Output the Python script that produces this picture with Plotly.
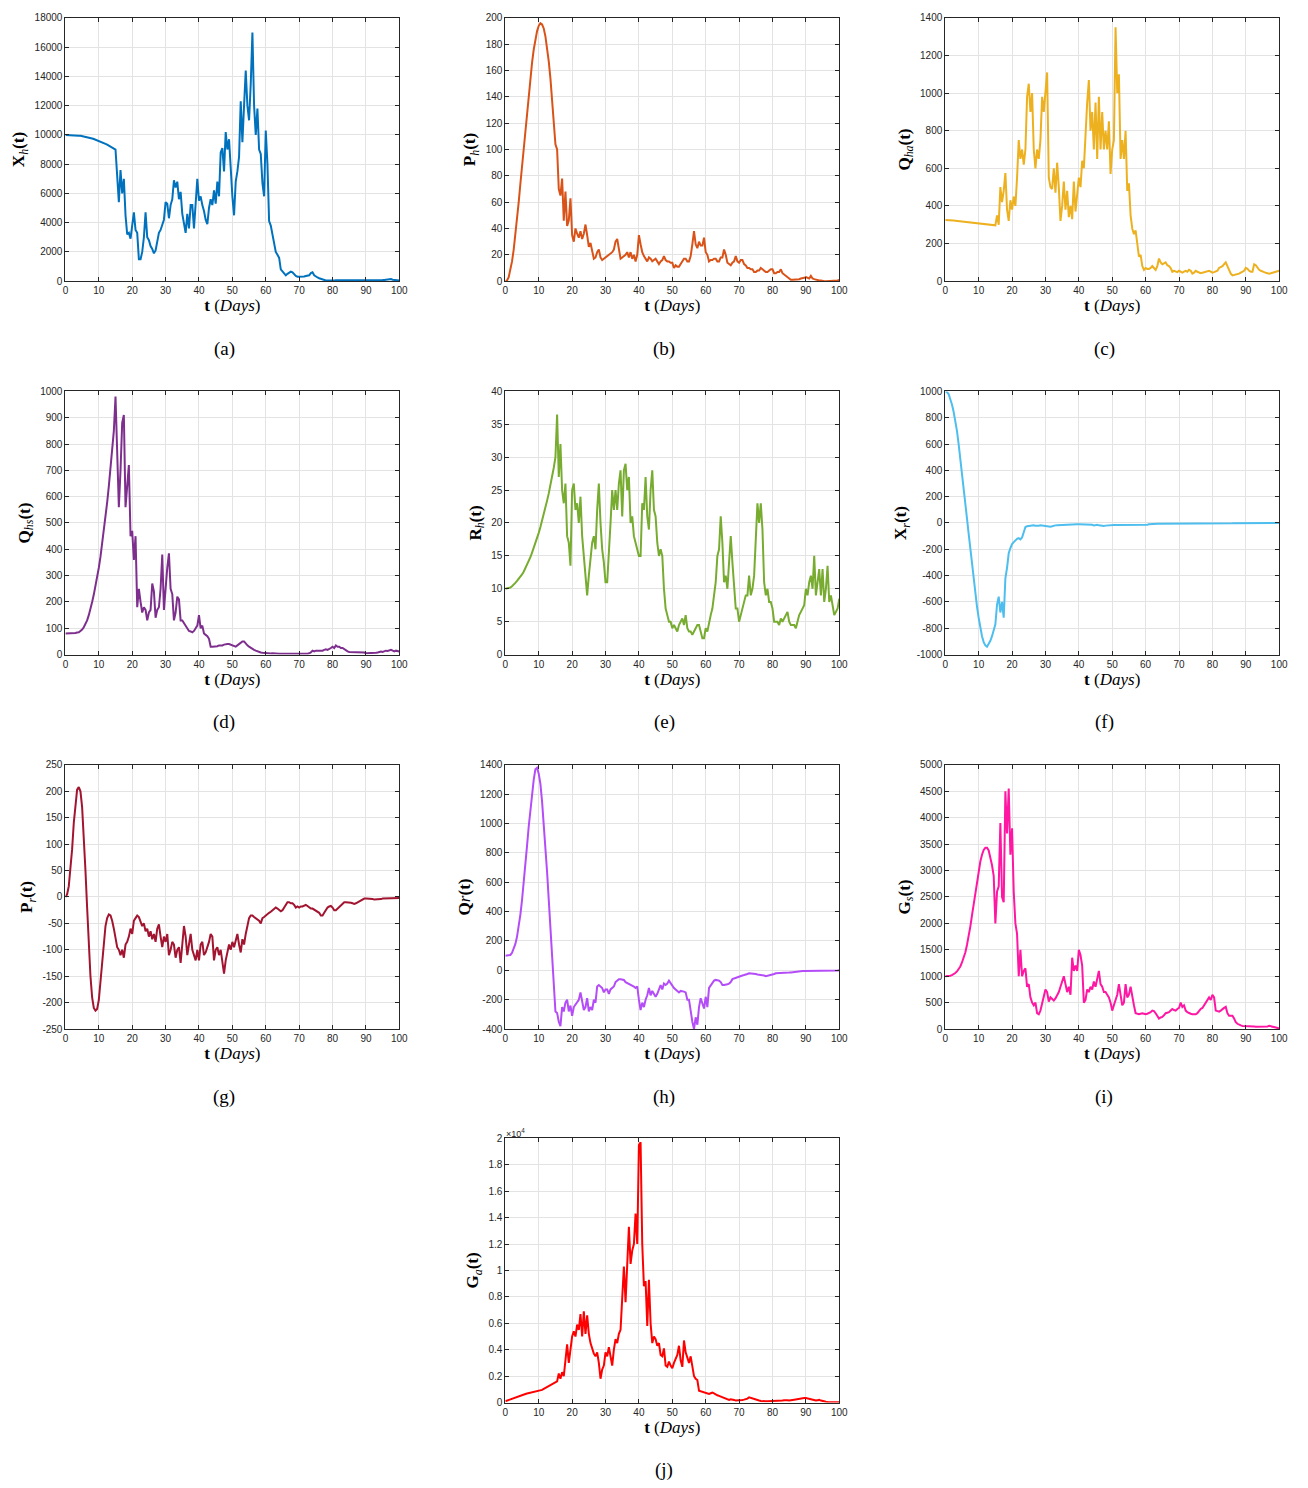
import numpy as np
import plotly.graph_objects as go

# time grid (days), step 0.5
t = np.arange(0, 100.5, 0.5)

Xh = [10000,10000,9998,9995,9990,9985,9975,9965,9950,9935,9915,9895,9870,9845,9815,9785,9750,9715,9675,9635,
      9590,9545,9495,9445,9390,9335,9275,9215,9150,9085,9000,7200,5400,7600,6000,7000,4500,3200,3300,2900,
      3800,4700,3500,3300,1500,1500,2000,3000,4700,3000,2800,2400,2200,1900,2100,2700,3300,3500,3800,4200,
      5400,5300,4300,5200,5600,6900,6400,6800,5600,6100,4600,4000,3300,4600,3600,5200,5200,3600,5000,7000,
      5500,5800,5200,4800,4200,3900,5000,5600,5200,6200,5300,6800,5800,8800,9100,7500,10200,9000,9700,7600,
      5800,4500,6800,7500,8500,12300,9500,12000,14400,12000,11000,13500,17000,12000,10000,11800,9000,8700,6700,5800,
      10300,8000,4100,3800,3100,2700,2000,1800,1600,800,650,550,400,500,600,650,600,450,350,300,
      300,280,300,320,350,380,400,550,600,400,300,250,200,150,100,80,50,40,30,30,
      40,50,60,60,60,50,40,35,30,30,30,25,25,20,20,20,20,25,25,20,
      20,25,30,30,35,40,40,45,50,60,70,80,100,120,150,140,100,80,60,50,50]

Ph = [0,0.5,3,8,15,24,35,47,60,74,88,102,116,130,143,155,166,176,184,190,
      194,196,195,192,186,178,167,154,139,122,104,100,70,65,78,46,68,42,46,63,
      35,30,40,36,33,38,32,36,43,35,26,29,22,17,18,22,24,18,16,17,
      18,19,20,21,22,24,30,32,25,17,18,19,20,22,18,22,17,20,15,20,
      35,28,22,19,17,15,18,17,15,16,17,15,13,15,16,19,16,15,15,14,
      14,10,12,11,11,13,15,17,17,15,15,19,28,38,28,25,30,27,27,33,
      22,20,15,16,16,17,17,15,15,18,18,24,20,14,13,12,14,15,19,15,
      14,16,16,13,12,10,10,9,9,7,7,8,8,10,9,8,7,7,8,9,
      9,6,6,7,7,9,6,5,4,3,2,1,1,1,1,1,1.5,2,2,2.5,
      3,2.5,2,4,2,1.5,1,1,0.5,0.5,0,0,0,0,0,0,0,0.5,0.5,0.5,1]

Qha = [325,325,324,324,323,322,321,320,319,318,317,316,315,314,313,312,311,310,309,308,
       307,306,305,304,303,302,301,300,299,298,297,350,300,500,420,480,575,380,320,430,
       380,450,400,550,750,650,700,620,700,980,1050,900,1000,700,600,700,650,750,980,900,
       1000,1110,550,500,490,600,470,630,500,320,400,530,380,480,340,400,330,530,370,480,
       550,500,640,600,800,950,1070,800,900,700,950,650,980,700,900,700,800,700,850,570,
       700,750,1350,1000,1100,650,750,650,800,480,520,350,280,250,270,200,130,140,80,60,
       70,65,65,70,80,70,60,80,120,100,90,95,100,85,80,70,50,55,50,48,
       55,50,45,50,55,50,60,55,40,45,55,50,45,42,45,48,50,52,55,50,
       45,48,50,55,70,75,80,90,100,80,60,40,30,32,35,38,40,45,50,55,
       70,65,55,50,50,90,85,70,60,55,50,48,45,42,40,42,45,48,50,52,55]

Qhs = [80,80,80,80,80,81,82,84,85,90,95,104,115,130,150,172,200,228,260,293,
       330,372,420,468,520,578,640,703,770,850,980,800,560,700,880,910,560,640,720,450,
       470,360,450,180,250,200,160,180,170,130,160,170,270,240,140,170,180,250,380,170,
       270,330,385,250,230,130,160,220,210,130,130,120,110,100,90,88,85,90,100,110,
       150,100,110,80,75,70,60,30,30,30,30,32,35,35,35,38,40,40,40,38,
       35,32,30,35,40,45,50,50,40,35,30,25,20,18,15,12,10,8,7,6,
       5,5,5,4,5,4,3,3,3,3,3,3,2,2,2,2,2,2,2,2,
       2,2,2,3,2,3,5,8,15,12,15,15,15,17,15,18,20,18,20,25,
       30,25,35,30,30,25,25,20,15,12,10,10,10,10,10,10,10,8,10,8,
       5,5,5,5,5,6,7,8,10,12,10,12,15,14,15,18,15,12,15,14,12]

Rh = [10,10.03,10.1,10.2,10.4,10.6,10.9,11.2,11.5,11.8,12.2,12.6,13.1,13.6,14.2,14.8,15.5,16.2,16.9,17.7,
      18.5,19.4,20.3,21.3,22.3,23.4,24.5,25.7,27.0,28.4,30.0,36.5,27,32,25,23,26,18,17,13.5,
      25,26,22,23,20,24,18,15,12,9,12,15,17,18,16,22,26,20,16,14,
      11,11,15,20,25,22,25,22,26,28,21,28,29,25,27,20,21,18,17,16,
      15,15,23,22,27,21,19,25,28,22,21,17,15,16,15,10,7,6,5,5,
      4,4.5,4,3.5,4.5,5,5.5,4.5,6,4,3.5,3.5,3,3.5,4,4.5,4.5,3.5,2.5,2.5,
      4,3.5,5,6,7,9,11,15,16,21,17,11,12,10,14,18,14,10,7,7,
      5,6,7,8,9,9,12,9,10,12,17,23,20,23,19,11,9,10,8,8,
      7,5,5,5,4.5,5.5,5,5.5,6,6.5,5,4.5,4.5,4.5,4,5,6,6.5,7,7.5,
      10,9,11,12,10,15,9,11,13,9,13,8,10,13.5,8,9,7.5,6,6.5,7,8.5]

Xr = [1000,995,980,945,900,845,780,700,600,495,380,265,150,35,-80,-200,-320,-430,-540,-635,
      -720,-795,-860,-905,-930,-940,-920,-895,-860,-815,-770,-620,-560,-680,-600,-720,-420,-340,-230,-190,
      -160,-145,-130,-120,-115,-125,-110,-60,-30,-25,-22,-20,-20,-18,-20,-22,-20,-18,-20,-22,
      -20,-22,-25,-28,-25,-20,-18,-17,-16,-15,-15,-14,-13,-12,-12,-12,-11,-10,-10,-10,
      -10,-10,-12,-12,-13,-14,-15,-12,-14,-18,-15,-14,-18,-20,-25,-22,-20,-18,-18,-16,
      -15,-15,-16,-16,-15,-15,-14,-13,-14,-15,-15,-14,-14,-13,-13,-12,-12,-13,-14,-14,
      -15,-13,-10,-8,-6,-6,-6,-5,-5,-5,-5,-5,-5,-5,-4,-4,-5,-5,-5,-5,
      -5,-6,-6,-7,-6,-6,-5,-5,-4,-4,-4,-4,-3,-3,-3,-3,-3,-3,-3,-3,
      -3,-2,-2,-2,-2,-2,-2,-2,-2,-2,-2,-2,-2,-1,-1,-1,-1,-1,-1,-1,
      -1,-1,-1,-1,-1,-1,-1,-1,-1,-1,0,0,0,0,0,0,0,0,0,0,0]

Pr = [0,5,20,50,90,140,180,203,208,200,170,120,50,-20,-90,-150,-190,-210,-215,-212,
      -195,-160,-120,-85,-55,-40,-33,-35,-45,-60,-80,-95,-100,-110,-100,-115,-90,-85,-75,-60,
      -70,-45,-40,-35,-38,-45,-55,-50,-65,-60,-75,-65,-80,-70,-85,-60,-52,-75,-95,-75,
      -85,-70,-110,-100,-85,-90,-115,-100,-95,-125,-80,-55,-75,-110,-90,-70,-100,-110,-120,-100,
      -120,-90,-85,-110,-105,-95,-85,-70,-75,-120,-100,-95,-110,-100,-125,-145,-120,-105,-90,-100,
      -85,-95,-80,-70,-90,-105,-80,-90,-70,-55,-40,-35,-35,-38,-40,-43,-45,-50,-40,-38,
      -35,-32,-30,-28,-25,-22,-20,-22,-25,-27,-25,-20,-15,-10,-10,-12,-12,-15,-20,-18,
      -20,-18,-18,-16,-15,-17,-20,-22,-22,-24,-25,-28,-30,-35,-35,-30,-25,-20,-18,-17,
      -20,-25,-25,-22,-18,-15,-12,-10,-10,-10,-10,-11,-12,-13,-12,-10,-8,-6,-4,-3,
      -3,-3,-4,-4,-4,-5,-5,-5,-4,-4,-3,-3,-3,-3,-3,-3,-3,-2,-2,-2,-2]

Qr = [100,100,100,105,120,145,180,230,300,380,480,590,720,850,980,1100,1220,1300,1370,1380,
      1340,1270,1150,1010,850,670,480,290,100,-100,-280,-290,-350,-380,-250,-280,-220,-200,-280,-240,
      -310,-250,-230,-210,-200,-150,-220,-270,-250,-190,-280,-250,-270,-200,-220,-110,-100,-110,-120,-150,
      -130,-130,-160,-130,-120,-110,-80,-70,-60,-60,-60,-65,-80,-85,-90,-95,-100,-110,-120,-110,
      -200,-270,-220,-250,-200,-170,-120,-170,-140,-160,-180,-160,-130,-100,-130,-90,-100,-90,-70,-90,
      -110,-120,-130,-140,-150,-140,-140,-145,-150,-200,-200,-280,-350,-400,-320,-370,-250,-190,-220,-260,
      -180,-250,-120,-100,-80,-70,-65,-65,-70,-80,-100,-100,-100,-95,-90,-80,-60,-55,-50,-45,
      -40,-38,-35,-32,-30,-25,-20,-20,-20,-22,-25,-28,-30,-30,-30,-35,-40,-38,-35,-32,
      -30,-25,-20,-20,-20,-18,-15,-15,-15,-15,-15,-14,-12,-12,-12,-10,-8,-6,-5,-5,
      -5,-5,-5,-5,-5,-6,-5,-5,-5,-5,-5,-5,-5,-4,-4,-3,-3,-2,-2,-1,0]

Gs = [1000,1001,1005,1010,1020,1035,1060,1090,1130,1185,1260,1345,1450,1590,1750,1940,2150,2370,2600,2810,
      3000,3170,3300,3390,3430,3430,3380,3260,3100,2900,2000,2600,2700,3900,2500,2400,4500,3700,4550,3300,
      3800,2600,2000,1800,1000,1500,1000,1100,1150,800,850,600,500,450,500,300,280,350,500,650,
      750,700,520,600,560,540,580,640,700,800,900,1000,850,700,800,650,1350,1100,1200,1100,
      1500,1400,1200,500,550,750,700,800,750,900,800,950,1100,850,800,700,700,650,600,500,
      350,450,550,650,850,600,450,500,850,600,650,800,600,450,300,290,280,290,300,290,
      280,290,300,320,350,340,300,250,200,220,230,260,300,310,320,350,380,360,350,380,
      400,500,420,450,350,320,300,290,280,280,280,300,350,380,400,450,500,550,600,550,
      650,600,350,340,330,350,380,400,420,300,250,250,250,200,130,100,80,70,60,60,
      60,55,50,50,50,48,45,45,45,45,45,45,45,50,60,55,50,40,30,20,10]

Ga = [100,150,200,250,300,350,400,450,500,540,580,615,650,680,710,735,760,790,820,850,
      880,920,960,1030,1100,1175,1250,1325,1400,1450,1500,1600,2200,1800,2300,2000,3200,4400,3000,4200,
      5000,5400,5000,5900,5500,6700,5000,6900,5200,6600,5200,4500,4000,3700,3500,3800,3000,1800,2500,2800,
      3800,3500,4200,3500,2800,4000,4800,4500,5200,5500,7500,10300,7600,10000,13300,10500,11500,12000,14300,12000,
      19500,19700,12000,8800,9200,5800,9300,6000,4500,5000,4800,4300,4500,3600,3500,4100,2800,2700,3100,2800,
      2600,3000,3300,3600,4300,3200,2700,4700,3800,3400,3000,3500,2800,2000,1800,1700,900,850,800,750,
      700,650,650,700,750,700,600,550,500,450,400,350,300,250,200,250,250,200,150,150,
      150,180,200,220,250,300,400,350,300,250,200,180,150,120,100,100,100,100,100,100,
      100,100,100,100,100,120,150,180,200,180,150,200,200,220,250,280,300,320,350,350,
      350,320,300,280,250,200,150,180,200,150,100,80,60,50,40,30,30,25,20,20,20]

W, H = 1308, 1488
# panel boxes in pixels: (left, right, top, bottom)
cols = [(63, 400), (507, 844), (951, 1288)]
rows = [(13, 278), (389, 654), (765, 1031), (1141, 1407)]

panels = [
    dict(y=Xh, color='#0072BD', row=0, col=0, rng=[0, 18000], dt=2000,
         title='<b>X</b><sub><i>h</i></sub><b>(t)</b>', lab='(a)'),
    dict(y=Ph, color='#D95319', row=0, col=1, rng=[0, 200], dt=20,
         title='<b>P</b><sub><i>h</i></sub><b>(t)</b>', lab='(b)'),
    dict(y=Qha, color='#EDB120', row=0, col=2, rng=[0, 1400], dt=200,
         title='<b>Q</b><sub><i>ha</i></sub><b>(t)</b>', lab='(c)'),
    dict(y=Qhs, color='#7E2F8E', row=1, col=0, rng=[0, 1000], dt=100,
         title='<b>Q</b><sub><i>hs</i></sub><b>(t)</b>', lab='(d)'),
    dict(y=Rh, color='#77AC30', row=1, col=1, rng=[0, 40], dt=5,
         title='<b>R</b><sub><i>h</i></sub><b>(t)</b>', lab='(e)'),
    dict(y=Xr, color='#4DBEEE', row=1, col=2, rng=[-1000, 1000], dt=200,
         title='<b>X</b><sub><i>r</i></sub><b>(t)</b>', lab='(f)'),
    dict(y=Pr, color='#A2142F', row=2, col=0, rng=[-250, 250], dt=50,
         title='<b>P</b><sub><i>r</i></sub><b>(t)</b>', lab='(g)'),
    dict(y=Qr, color='#B44CF8', row=2, col=1, rng=[-400, 1400], dt=200,
         title='<b>Q</b><i>r</i><b>(t)</b>', lab='(h)'),
    dict(y=Gs, color='#FF16A2', row=2, col=2, rng=[0, 5000], dt=500,
         title='<b>G</b><sub><i>s</i></sub><b>(t)</b>', lab='(i)'),
    dict(y=Ga, color='#FF0000', row=3, col=1, rng=[0, 20000], dt=2000,
         title='<b>G</b><sub><i>a</i></sub><b>(t)</b>', lab='(j)'),
]

fig = go.Figure()
layout = dict(width=W, height=H, margin=dict(l=0, r=0, t=0, b=0),
              paper_bgcolor='white', plot_bgcolor='white', showlegend=False)
annotations = []
axcol = '#262626'
tickfont = dict(family='Liberation Sans, Arial, sans-serif', size=10, color=axcol)
serif = 'Liberation Serif, Times New Roman, serif'

for i, p in enumerate(panels):
    n = '' if i == 0 else str(i + 1)
    l, r = cols[p['col']]
    tp, bt = rows[p['row']]
    xd = [l / W, r / W]
    yd = [1 - bt / H, 1 - tp / H]
    fig.add_trace(go.Scatter(x=t, y=p['y'], mode='lines',
                             line=dict(color=p['color'], width=2),
                             xaxis='x' + n, yaxis='y' + n, hoverinfo='skip'))
    lo, hi = p['rng']
    tv = list(np.arange(lo, hi + p['dt'] / 2, p['dt']))
    if p['lab'] == '(j)':
        tt = ['0'] + ['%g' % (v / 10000) for v in tv[1:]]
    else:
        tt = ['%d' % v for v in tv]
    common = dict(showline=True, mirror='ticks', linecolor=axcol, linewidth=1,
                  ticks='inside', ticklen=4, tickcolor=axcol, tickwidth=1,
                  showgrid=True, gridcolor='#e3e3e3', gridwidth=1, zeroline=False,
                  tickfont=tickfont)
    layout['xaxis' + n] = dict(domain=xd, range=[0, 100], anchor='y' + n,
                               tickvals=list(range(0, 101, 10)),
                               ticktext=[str(v) for v in range(0, 101, 10)],
                               title=dict(text='<b>t</b> (<i>Days</i>)',
                                          font=dict(family=serif, size=17, color='black'),
                                          standoff=1),
                               **common)
    layout['yaxis' + n] = dict(domain=yd, range=[lo, hi], anchor='x' + n,
                               tickvals=tv, ticktext=tt,
                               title=dict(text=p['title'],
                                          font=dict(family=serif, size=17, color='black'),
                                          standoff=5),
                               **common)
    cx = (l + r) / 2 - 8
    annotations.append(dict(text=p['lab'], x=cx / W, y=1 - (bt + 68) / H,
                            xref='paper', yref='paper', showarrow=False,
                            font=dict(family=serif, size=19, color='black'),
                            xanchor='center', yanchor='middle'))

annotations.append(dict(text='\u00d710<sup>4</sup>', x=507 / W, y=1 - 1143 / H,
                        xref='paper', yref='paper', showarrow=False,
                        font=dict(family='Liberation Sans, Arial, sans-serif', size=9, color=axcol),
                        xanchor='left', yanchor='bottom', borderpad=0))
layout['annotations'] = annotations
fig.update_layout(**layout)
fig.write_html('out.html')
